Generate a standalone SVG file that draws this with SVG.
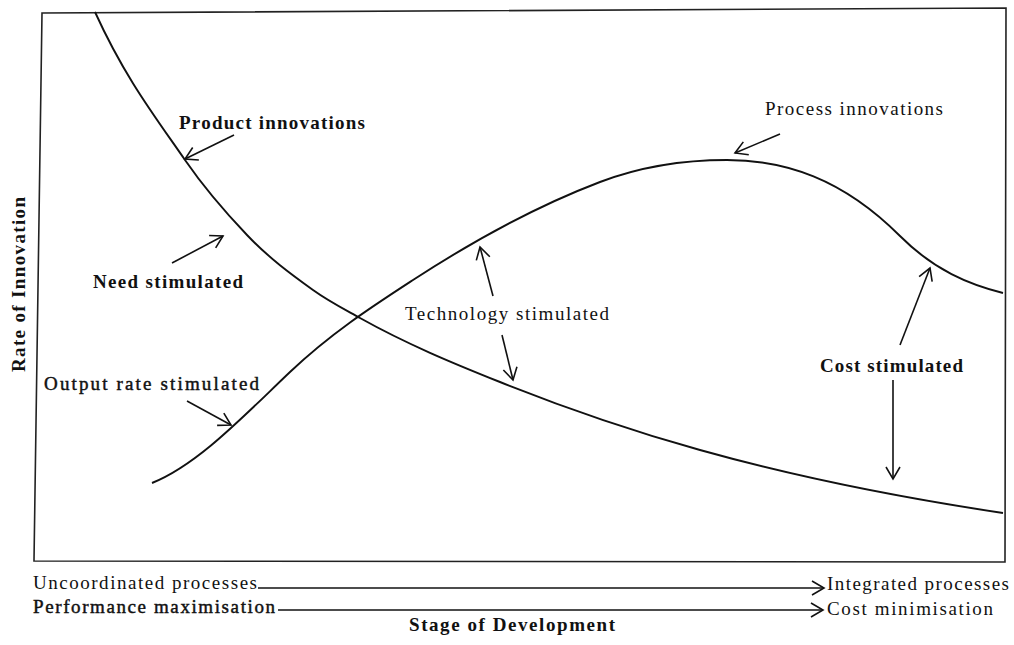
<svg xmlns="http://www.w3.org/2000/svg" width="1014" height="645" viewBox="0 0 1014 645">
<defs>
<style>
text{font-family:"Liberation Serif","Times New Roman",serif;fill:#111;}
.b{font-weight:bold;font-size:19px;}
.r{font-weight:normal;font-size:19px;}
.m{font-weight:normal;font-size:19px;stroke:#111;stroke-width:0.45;}
.curve{fill:none;stroke:#111;stroke-width:1.9;}
.frame{fill:none;stroke:#222;stroke-width:1.6;}
.arr{fill:none;stroke:#111;stroke-width:1.6;marker-end:url(#v);}
</style>
<marker id="v" markerUnits="userSpaceOnUse" viewBox="-14 -9 16 18" markerWidth="16" markerHeight="18" refX="0" refY="0" orient="auto">
<path d="M-12,-7 L0,0 L-12,7" fill="none" stroke="#111" stroke-width="1.6"/>
</marker>
</defs>
<rect width="1014" height="645" fill="#fff"/>
<path id="frame" class="frame" d="M42,13 L1006,8 L1005,562 L34,561 Z"/>
<g id="curves">
<path id="product-curve" class="curve" d="M95,12 C125,78 155,116.5 185,160 C205.67,189.97 226.33,213.3 247,235 C269,258.1 291,274.16 313,290 C328.67,301.28 344.33,309.23 360,318 C406.67,344.13 453.33,363.33 500,382 C566.67,408.67 633.33,431.33 700,450 C801,478.28 902,497.85 1003,513"/>
<path id="process-curve" class="curve" d="M152,483 C198,464.6 244,415.7 290,372 C331,333.1 372,306.7 413,280 C475.3,239.5 537.7,205.7 600,182 C642.3,165.9 684.7,160 727,160 C784.7,160 842.3,178.3 900,236 C934.3,270.3 968.7,284.4 1003,293"/>
</g>
<g id="connectors">
<line class="arr" x1="234" y1="135" x2="185" y2="159"/>
<line class="arr" x1="172" y1="263" x2="223" y2="236"/>
<line class="arr" x1="187" y1="401" x2="231" y2="425"/>
<line class="arr" x1="493" y1="296" x2="480" y2="247"/>
<line class="arr" x1="502" y1="335" x2="513" y2="380"/>
<line class="arr" x1="780" y1="134" x2="735" y2="153"/>
<line class="arr" x1="900" y1="345" x2="930" y2="268"/>
<line class="arr" x1="893" y1="380" x2="893" y2="479"/>
<line class="arr" x1="258" y1="588" x2="824" y2="588"/>
<line class="arr" x1="278" y1="610" x2="823" y2="610"/>
</g>
<g id="product-innovations"><text class="b" x="179" y="129" textLength="186" lengthAdjust="spacing">Product innovations</text></g>
<g id="need-stimulated"><text class="b" x="93" y="288" textLength="150" lengthAdjust="spacing">Need stimulated</text></g>
<g id="output-rate-stimulated"><text class="m" x="44" y="390" textLength="215" lengthAdjust="spacing">Output rate stimulated</text></g>
<g id="technology-stimulated"><text class="r" x="405" y="320" textLength="204" lengthAdjust="spacing">Technology stimulated</text></g>
<g id="process-innovations"><text class="r" x="765" y="115" textLength="178" lengthAdjust="spacing">Process innovations</text></g>
<g id="cost-stimulated"><text class="b" x="820" y="372" textLength="143" lengthAdjust="spacing">Cost stimulated</text></g>
<g id="y-axis-label"><text class="b" transform="translate(25,372) rotate(-90)" x="0" y="0" textLength="175" lengthAdjust="spacing">Rate of Innovation</text></g>
<g id="uncoordinated"><text class="r" x="33" y="589" textLength="224" lengthAdjust="spacing">Uncoordinated processes</text></g>
<g id="performance"><text class="m" x="33" y="613" textLength="242" lengthAdjust="spacing">Performance maximisation</text></g>
<g id="integrated"><text class="r" x="827" y="590" textLength="182" lengthAdjust="spacing">Integrated processes</text></g>
<g id="cost-minimisation"><text class="r" x="827" y="615" textLength="166" lengthAdjust="spacing">Cost minimisation</text></g>
<g id="x-axis-label"><text class="b" x="409" y="631" textLength="206" lengthAdjust="spacing">Stage of Development</text></g>
</svg>
